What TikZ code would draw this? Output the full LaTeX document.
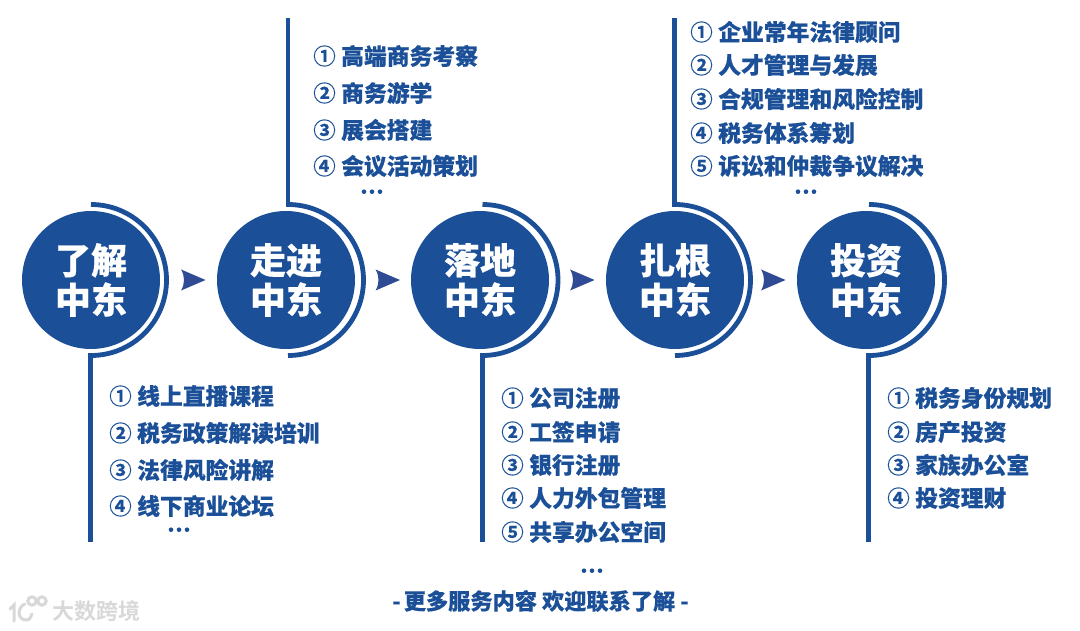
\documentclass[tikz,border=0pt]{standalone}
\usepackage{fontspec}
\setmainfont{Noto Sans CJK SC}[BoldFont={* Black},UprightFont={* Bold}]
\newfontfamily\heavyfont{Noto Sans CJK SC Black}[FakeBold=0.35]
\newfontfamily\ringfont{Noto Sans CJK SC Bold}[FakeBold=0.2]
\definecolor{brandblue}{HTML}{1B5098}
\definecolor{arrowblue}{HTML}{2F4B93}
\definecolor{markgrey}{HTML}{D8D8D8}
\tikzset{
  stage/.style={circle,fill=brandblue,draw=none,minimum size=138pt,inner sep=0pt,text=white,align=center,font=\fontsize{36}{39.5}\selectfont\heavyfont},
  ringarc/.style={draw=brandblue,line width=4.8pt},
  stem/.style={draw=brandblue,line width=4.8pt},
  itemtext/.style={anchor=west,inner sep=0pt,text=brandblue,font=\fontsize{22.8}{24}\selectfont\heavyfont},
  itemnum/.style={anchor=center,inner sep=0pt,text=brandblue,font=\fontsize{22.5}{24}\selectfont\ringfont},
  moredots/.style={circle,fill=brandblue,minimum size=4.6pt,inner sep=0pt},
  flow/.style={fill=arrowblue,draw=none},
  closing/.style={inner sep=0pt,text=brandblue,font=\fontsize{22.2}{24}\selectfont\heavyfont},
  wmark/.style={inner sep=0pt,text=markgrey,font=\fontsize{22}{24}\selectfont},
  wline/.style={draw=markgrey,line width=3pt,line cap=round}
}
\newcommand{\itemrow}[5]{% name, x, y, number, text
  \node[itemnum] (#1n) at (#2+1.5,#3) {#4};
  \node[itemtext] (#1t) at (#2+18,#3) {#5};
}
\newcommand{\threedots}[3]{% name, x, y
  \node[moredots] (#1a) at (#2-8,#3+0.7) {};
  \node[moredots] (#1b) at (#2,#3+0.7) {};
  \node[moredots] (#1c) at (#2+8,#3+0.7) {};
}
\newcommand{\flowtip}[2]{% x left, y centre
  \fill[flow] (#1,#2-10.5) -- (#1+24.5,#2) -- (#1,#2+10.5) .. controls (#1+4,#2+4) and (#1+4,#2-4) .. (#1,#2-10.5) -- cycle;
}
\newcommand{\ringat}[1]{% arc centre x
  \draw[ringarc] (#1,204.5) arc[start angle=90,end angle=-90,radius=75.5pt];
}
\begin{document}
\begin{tikzpicture}[x=1pt,y=-1pt]
\useasboundingbox (0,0) rectangle (1080,631);
% stages
\node[stage] (s1) at (91,280) {\raisebox{0pt}{了解}\\中东};
\node[stage] (s2) at (286,280) {走进\\中东};
\node[stage] (s3) at (480,280) {落地\\中东};
\node[stage] (s4) at (675,280) {扎根\\中东};
\node[stage] (s5) at (866,280) {投资\\中东};
% rings
\ringat{91}
\ringat{288}
\ringat{482.5}
\ringat{675}
\ringat{869}
% stems
\coordinate (t2) at (288,18); \coordinate (t4) at (674.5,18);
\coordinate (b1) at (90.8,542); \coordinate (b3) at (482.3,542); \coordinate (b5) at (868.3,542);
\draw[stem] (t2) -- (288,206.8);
\draw[stem] (t4) -- (674.5,206.8);
\draw[stem] (b1) -- (90.8,353.2);
\draw[stem] (b3) -- (482.3,353.2);
\draw[stem] (b5) -- (868.3,353.2);
% flow arrows
\flowtip{181}{280}
\flowtip{375.5}{280}
\flowtip{570}{280}
\flowtip{761}{280}
% column 1
\itemrow{a1}{119}{396}{①}{线上直播课程}
\itemrow{a2}{119}{433}{②}{税务政策解读培训}
\itemrow{a3}{119}{470}{③}{法律风险讲解}
\itemrow{a4}{119}{506}{④}{线下商业论坛}
\threedots{ad}{179}{529}
% column 2
\itemrow{b1i}{323}{56}{①}{高端商务考察}
\itemrow{b2i}{323}{93}{②}{商务游学}
\itemrow{b3i}{323}{130}{③}{展会搭建}
\itemrow{b4i}{323}{166}{④}{会议活动策划}
\threedots{bd}{372}{191}
% column 3
\itemrow{c1}{511}{398}{①}{公司注册}
\itemrow{c2}{511}{432}{②}{工签申请}
\itemrow{c3}{511}{465}{③}{银行注册}
\itemrow{c4}{511}{498}{④}{人力外包管理}
\itemrow{c5}{511}{532}{⑤}{共享办公空间}
\threedots{cd}{592}{570}
% column 4
\itemrow{d1}{700}{32}{①}{企业常年法律顾问}
\itemrow{d2}{700}{65}{②}{人才管理与发展}
\itemrow{d3}{700}{99}{③}{合规管理和风险控制}
\itemrow{d4}{700}{133}{④}{税务体系筹划}
\itemrow{d5}{700}{166}{⑤}{诉讼和仲裁争议解决}
\threedots{dd}{806}{191}
% column 5
\itemrow{e1}{897}{398}{①}{税务身份规划}
\itemrow{e2}{897}{432}{②}{房产投资}
\itemrow{e3}{897}{465}{③}{家族办公室}
\itemrow{e4}{897}{498}{④}{投资理财}
% closing line
\node[closing] (close) at (540.5,601) {-\hspace{3pt}更多服务内容 欢迎联系了解\hspace{5pt}-};
% watermark
\node[wmark,anchor=west] (wm) at (52,611) {大数跨境};
\draw[wline] (10,609) -- (14,605) -- (14,621);
\draw[wline] (25,604) .. controls (17,607) and (17,620) .. (26,620) .. controls (30,620) and (31,617) .. (32,614);
\draw[wline] (32,601) circle[radius=4.2pt];
\draw[wline] (42,601) circle[radius=4.2pt];
\end{tikzpicture}
\end{document}
